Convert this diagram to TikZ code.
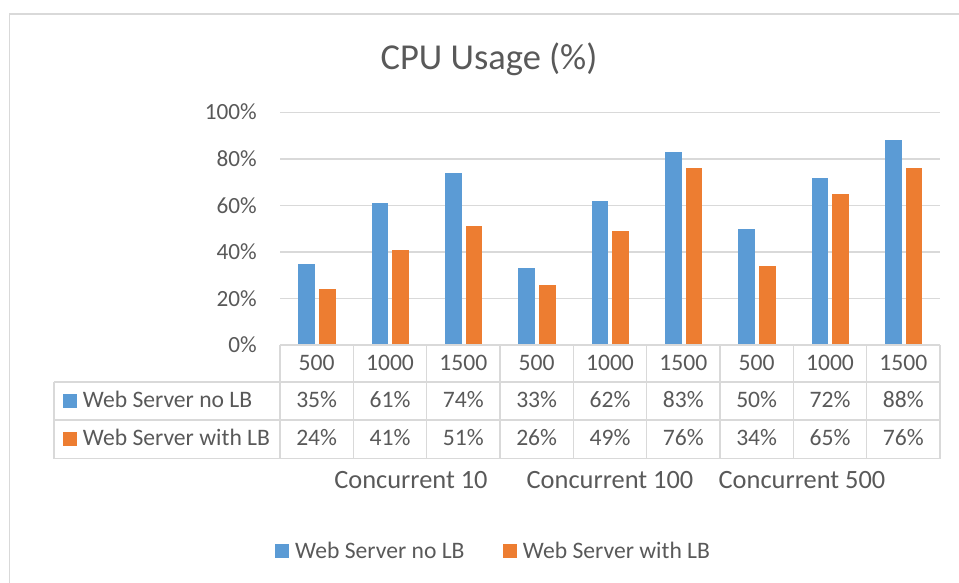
\documentclass[tikz,border=0pt]{standalone}
\usepackage{fontspec}
\setmainfont{Carlito}
\definecolor{serA}{HTML}{5B9BD5}
\definecolor{serB}{HTML}{ED7D31}
\definecolor{txt}{HTML}{595959}
\definecolor{rule}{HTML}{D9D9D9}
\tikzset{
  lbl/.style={text=txt, inner sep=0pt, anchor=base, font=\fontsize{23.6}{28}\selectfont},
  ylbl/.style={lbl, anchor=base east, font=\fontsize{23.2}{28}\selectfont},
  grplbl/.style={lbl, font=\fontsize{26.4}{30}\selectfont},
  gridln/.style={draw=rule, line width=1.4pt},
  tabln/.style={draw=rule, line width=1.6pt},
}
\begin{document}
\begin{tikzpicture}[x=1pt, y=-1pt]
\useasboundingbox (0,0) rectangle (959,583);
% chart frame
\draw[rule, line width=1.4pt] (9.5,600) -- (9.5,14) -- (970,14);
% title
\node[lbl, font=\fontsize{36.5}{40}\selectfont] (title) at (489,70) {CPU Usage (\%)};
% value axis: gridlines and labels
\foreach \v/\t in {1/20\%,2/40\%,3/60\%,4/80\%,5/100\%}{
  \pgfmathsetmacro{\yy}{345-46.5*\v}
  \draw[gridln] (280,\yy) -- (940,\yy);
  \node[ylbl] (y\v) at (257,\yy+7.5) {\t};
}
\node[ylbl] (y0) at (257,352) {0\%};
% bars
\def\yscl{2.325}
\foreach \a/\b [count=\i from 0] in {35/24,61/41,74/51,33/26,62/49,83/76,50/34,72/65,88/76}{
  \pgfmathsetmacro{\cx}{280+73.333*(\i+0.5)}
  \fill[serA] (\cx-18.4,345) rectangle (\cx-1.7,345-\a*\yscl);
  \fill[serB] (\cx+2.3,345) rectangle (\cx+19,345-\b*\yscl);
}
% data table grid
\draw[tabln] (280,345) -- (940,345);
\foreach \yy in {381.7,420,458.5} \draw[tabln] (54,\yy) -- (940,\yy);
\draw[tabln] (54,381.7) -- (54,458.5);
\foreach \k in {0,...,9} \draw[tabln] (280+73.333*\k,345) -- (280+73.333*\k,458.5);
% table row headers
\fill[serA] (62.7,394.3) rectangle (76.7,407.7);
\node[lbl, anchor=base west] (rowA) at (82.7,407.7) {Web Server no LB};
\fill[serB] (62.7,432.3) rectangle (76.7,445.7);
\node[lbl, anchor=base west] (rowB) at (82.7,445) {Web Server with LB};
% table cells
\foreach \c/\a/\b [count=\i from 0] in {500/35/24,1000/61/41,1500/74/51,500/33/26,1000/62/49,1500/83/76,500/50/34,1000/72/65,1500/88/76}{
  \pgfmathsetmacro{\cx}{280+73.333*(\i+0.5)}
  \node[lbl] (cat\i) at (\cx,370.7) {\c};
  \node[lbl] (va\i) at (\cx,407.7) {\a\%};
  \node[lbl] (vb\i) at (\cx,445) {\b\%};
}
% group labels
\node[grplbl] (g1) at (411,488.3) {Concurrent 10};
\node[grplbl] (g2) at (610,488.3) {Concurrent 100};
\node[grplbl] (g3) at (802,488.3) {Concurrent 500};
% legend
\fill[serA] (275,544.3) rectangle (288.7,557.7);
\node[lbl, anchor=base west] (legA) at (295,558.3) {Web Server no LB};
\fill[serB] (502.7,544.3) rectangle (516.7,557.7);
\node[lbl, anchor=base west] (legB) at (522.7,558.3) {Web Server with LB};
\end{tikzpicture}
\end{document}
